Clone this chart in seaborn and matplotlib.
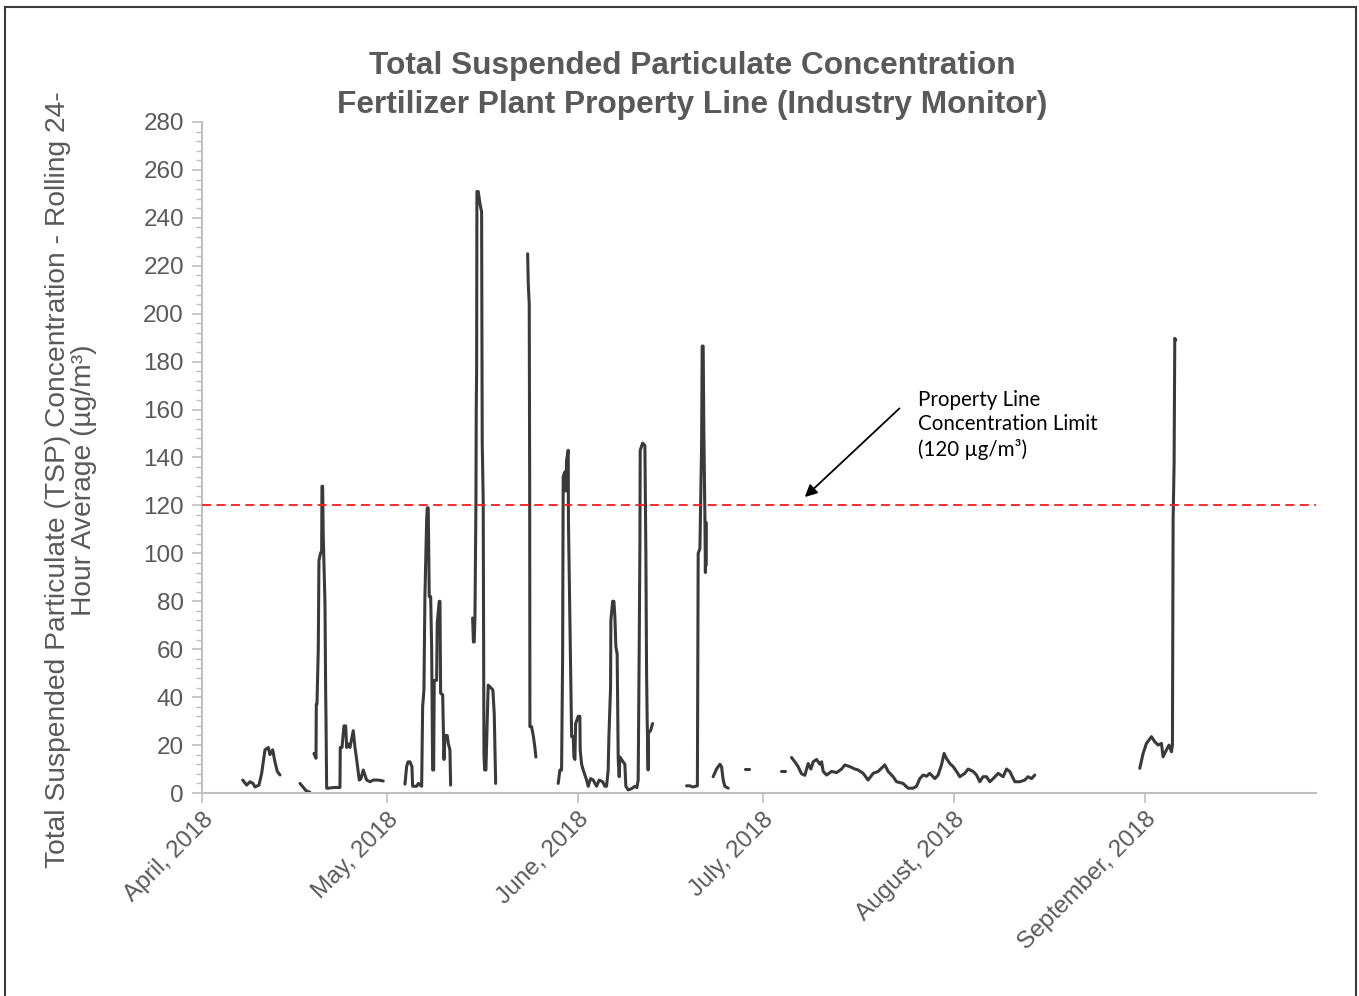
import numpy as np
import pandas as pd
import matplotlib
matplotlib.use("Agg")
import matplotlib.pyplot as plt
import matplotlib.dates as mdates
from matplotlib.patches import Rectangle
from matplotlib.ticker import MultipleLocator, FixedLocator
import seaborn as sns

START = pd.Timestamp("2018-04-01")
END = START + pd.Timedelta(days=180.8)

# Rolling 24-hour TSP record. Each inner list is one continuous stretch of
# valid monitor data (days elapsed since 1 April 2018 / concentration in µg/m³);
# the breaks between stretches are periods with no data.
segment_days = [
    [6.60, 7.25, 7.79, 8.28, 8.60, 9.25, 9.69, 10.22, 10.76, 11.03, 11.47, 11.84, 12.22, 12.66],
    [15.90, 16.39, 16.87, 17.52],
    [18.17, 18.50, 18.55, 18.66, 18.87, 18.98, 19.23, 19.42, 19.47, 19.58, 19.68, 19.96, 20.07,
     20.12, 20.23, 20.44, 21.42, 22.39, 22.44, 22.72, 23.04, 23.32, 23.48, 23.74, 24.01, 24.55,
     24.83, 25.10, 25.52, 25.80, 26.17, 26.72, 27.26, 27.80, 28.61, 29.42],
    [32.94, 33.21, 33.43, 33.75, 34.07, 34.19, 34.84, 35.10, 35.65, 35.81, 36.02, 36.18, 36.46,
     36.56, 36.72, 36.88, 37.11, 37.27, 37.43, 37.60, 37.69, 38.08, 38.18, 38.50, 38.62, 38.73,
     39.06, 39.27, 39.43, 39.80, 39.97, 40.24, 40.35],
    [43.92, 44.05, 44.18, 44.30, 44.46, 44.51, 44.57, 44.62, 44.83, 45.11, 45.38, 45.48, 45.64,
     45.76, 45.87, 46.08, 46.29, 46.45, 47.00, 47.21, 47.43, 47.66],
    [52.85, 52.95, 53.11, 53.18, 53.22, 53.49, 53.76, 54.03, 54.19],
    [57.81, 58.09, 58.36, 58.53, 58.62, 58.90, 59.06, 59.17, 59.44, 59.47, 59.71, 59.99, 60.25,
     60.36, 60.52, 60.64, 61.06, 61.33, 61.38, 61.61, 61.87, 62.42, 62.68, 63.07, 63.50, 63.77,
     64.04, 64.46, 65.02, 65.39, 65.66, 65.92, 66.04, 66.31, 66.36, 66.64, 66.85, 67.01, 67.17,
     67.38, 67.55, 67.71, 67.82, 68.09, 68.35, 68.63, 68.79, 69.17, 69.72, 70.25, 70.58, 70.79,
     70.95, 71.07, 71.12, 71.51, 71.88, 72.04, 72.15, 72.25, 72.41, 72.45, 72.80, 73.13],
    [78.64, 79.18, 79.67, 80.40, 80.53, 80.81, 81.08, 81.18, 81.34, 81.45, 81.62, 81.70, 81.78,
     81.84],
    [82.96, 83.51, 84.05, 84.32, 84.59, 84.86, 85.40],
    [88.11, 88.76],
    [93.90, 94.60],
    [95.68, 96.22, 96.75, 97.30, 97.84, 98.38, 98.82, 99.19, 99.74, 100.28, 100.56, 100.82,
     101.37, 102.18, 102.99, 103.80, 104.33, 105.15, 105.96, 106.49, 107.31, 108.11, 108.93,
     109.74, 110.82, 111.36, 112.17, 112.72, 113.79, 114.60, 115.42, 115.96, 116.50, 117.04,
     117.59, 118.12, 118.94, 119.47, 120.02, 120.44, 120.83, 121.37, 121.91, 122.46, 122.99,
     123.80, 124.34, 125.15, 125.70, 126.24, 126.77, 127.32, 127.86, 128.40, 129.21, 130.02,
     130.57, 131.10, 131.92, 132.73, 133.54, 134.07, 134.63, 135.16],
    [152.20, 152.74, 153.28, 154.10, 154.63, 155.17, 155.72, 155.98, 156.53, 156.95, 157.34,
     157.50, 157.61, 157.77, 157.88, 158.04],
]
segment_tsp = [
    [5.4, 3.3, 4.7, 4.0, 2.5, 3.3, 8.3, 18, 19, 16, 18, 13, 9, 7.5],
    [4.0, 2.5, 1.0, 0.3],
    [16.5, 14.5, 37, 37, 60, 97, 100, 101, 128, 128, 107, 79, 42,
     32, 2, 2, 2.3, 2.3, 19, 19, 28, 28, 19, 20.5, 19, 26,
     19, 14, 5.4, 6, 9.6, 5.4, 4.7, 5.4, 5.4, 5],
    [3.7, 11, 13, 13, 11, 2.8, 2.8, 4, 2.8, 36, 43, 82, 114,
     119, 119, 82, 82, 61, 9.6, 9.6, 47, 47, 71, 80, 80, 41.6,
     41, 14, 24, 24, 20.7, 18, 3.3],
    [73, 63, 63, 73, 122, 160, 176, 251, 251, 246, 242.5, 146, 122,
     16.5, 9.6, 9.6, 30, 45, 43.6, 43, 33, 4],
    [225, 212.7, 204, 130, 27.7, 27.7, 24, 19, 15],
    [4, 9.6, 9.6, 58, 132, 134, 126, 139, 143, 114, 72, 23.5, 23.5,
     15, 14, 29, 32, 32, 18, 12, 9.6, 5.4, 2.8, 6, 5.4, 4,
     2.8, 5.4, 4.7, 2.8, 2.8, 9.6, 23.5, 44, 72, 80, 80, 73.5, 61,
     58, 14, 6.8, 15, 14, 13, 12, 2.8, 1.3, 1.8, 2.8, 2.2, 5.4,
     58, 103, 143, 146, 145, 100, 51, 30.5, 9.6, 25, 26, 29],
    [3, 3, 2.5, 3, 100, 102, 144.5, 186.5, 186.5, 151, 115, 92, 113,
     95],
    [6.8, 10, 12, 11, 5.4, 2.8, 2],
    [10, 10],
    [9.3, 9.3],
    [14.8, 13, 11, 8, 7.4, 12.3, 10, 13, 14, 12, 13, 9,
     7.5, 9, 8.5, 10, 11.7, 11, 10, 9.6, 8.2, 5.4, 8.2,
     9, 11.7, 9, 6.8, 4.7, 4, 2, 2, 2.8, 6, 7.5,
     7, 8.2, 6, 7.5, 11.7, 16.5, 14.4, 12.3, 11, 9, 6.8,
     8.2, 10, 9, 7.5, 4.7, 6.8, 6.8, 4.7, 6, 8.2, 6.8,
     10, 9, 4.7, 4.7, 5.4, 6.8, 6, 7.5],
    [10.3, 16.5, 20.7, 23.5, 21.4, 20, 20.7, 15.1, 18, 20, 17.2,
     20, 114, 137.5, 189.7, 189],
]

LIMIT = 120  # property line concentration limit, µg/m³

month_starts = ["2018-04-01", "2018-05-01", "2018-06-01", "2018-07-01", "2018-08-01", "2018-09-01"]
month_labels = ["April, 2018", "May, 2018", "June, 2018", "July, 2018", "August, 2018", "September, 2018"]
y_ticks = list(range(0, 281, 20))

title_lines = ["Total Suspended Particulate Concentration",
               "Fertilizer Plant Property Line (Industry Monitor)"]
y_label = "Total Suspended Particulate (TSP) Concentration - Rolling 24-\nHour Average (µg/m³)"
note = "Property Line\nConcentration Limit\n(120 µg/m³)"

# Long-format table, one row per reading, keyed by stretch id
rows = []
for seg_id, (days, vals) in enumerate(zip(segment_days, segment_tsp)):
    for d, v in zip(days, vals):
        rows.append({"segment": seg_id, "time": START + pd.Timedelta(days=d), "tsp": v})
df = pd.DataFrame(rows)

sns.set_style("white")
plt.rcParams["font.family"] = ["Liberation Sans", "DejaVu Sans"]

GRAY_TEXT = "#595959"
AXIS_GRAY = "#bfbfbf"

fig = plt.figure(figsize=(13.59, 9.96), dpi=100)
ax = fig.add_axes([202 / 1359, 1 - 793 / 996, (1316 - 202) / 1359, (793 - 122) / 996])

sns.lineplot(data=df, x="time", y="tsp", units="segment", estimator=None,
             color="#3a3a3a", linewidth=2.2, legend=False, ax=ax,
             solid_capstyle="round", solid_joinstyle="round")

ax.axhline(LIMIT, color="#ff1a1a", linewidth=1.3, linestyle=(0, (5, 3)), zorder=3)

ax.set_xlim(START, END)
ax.set_ylim(0, 280)

ax.yaxis.set_major_locator(FixedLocator(y_ticks))
ax.yaxis.set_minor_locator(MultipleLocator(4))
ax.set_yticklabels([str(t) for t in y_ticks])

tick_dates = [mdates.date2num(pd.Timestamp(m)) for m in month_starts]
ax.set_xticks(tick_dates)
ax.set_xticklabels(month_labels, rotation=45, ha="right", rotation_mode="anchor")

ax.tick_params(axis="y", which="major", direction="out", length=7, width=1.2,
               color=AXIS_GRAY, labelsize=17.5, labelcolor=GRAY_TEXT, pad=6, left=True)
ax.tick_params(axis="y", which="minor", direction="out", length=4, width=1.0,
               color=AXIS_GRAY, left=True)
ax.tick_params(axis="x", which="major", direction="out", length=7, width=1.2,
               color=AXIS_GRAY, labelsize=17.5, labelcolor=GRAY_TEXT, pad=4, bottom=True)

for side in ("top", "right"):
    ax.spines[side].set_visible(False)
for side in ("left", "bottom"):
    ax.spines[side].set_color(AXIS_GRAY)
    ax.spines[side].set_linewidth(1.5)

ax.set_xlabel("")
ax.set_ylabel("")

fig.text(71 / 1359, 1 - 480 / 996, y_label, rotation=90, ha="center", va="center",
         multialignment="center", fontsize=20.3, color=GRAY_TEXT, linespacing=1.0)

fig.text(692 / 1359, 1 - 66 / 996, title_lines[0], ha="center", va="center",
         fontsize=22.8, fontweight="bold", color=GRAY_TEXT)
fig.text(692 / 1359, 1 - 105 / 996, title_lines[1], ha="center", va="center",
         fontsize=22.8, fontweight="bold", color=GRAY_TEXT)

# Callout pointing at the limit line
ax.annotate("", xy=(START + pd.Timedelta(days=97.84), 123.5),
            xytext=(START + pd.Timedelta(days=113.2), 160.5),
            arrowprops=dict(arrowstyle="-|>", color="black", lw=1.3,
                            mutation_scale=18, shrinkA=0, shrinkB=0))
fig.text(918 / 1359, 1 - 425 / 996, note, ha="left", va="center", fontsize=14.8,
         family=["Lato", "DejaVu Sans"], color="black", linespacing=1.3)

# Outer chart frame
fig.patches.append(Rectangle((5 / 1359, -0.05), (1356 - 5) / 1359, 1.05 - 7 / 996,
                             transform=fig.transFigure, fill=False,
                             edgecolor="#3a3a3a", linewidth=1.5, zorder=10))

fig.savefig("out.png", dpi=100, facecolor="white")
